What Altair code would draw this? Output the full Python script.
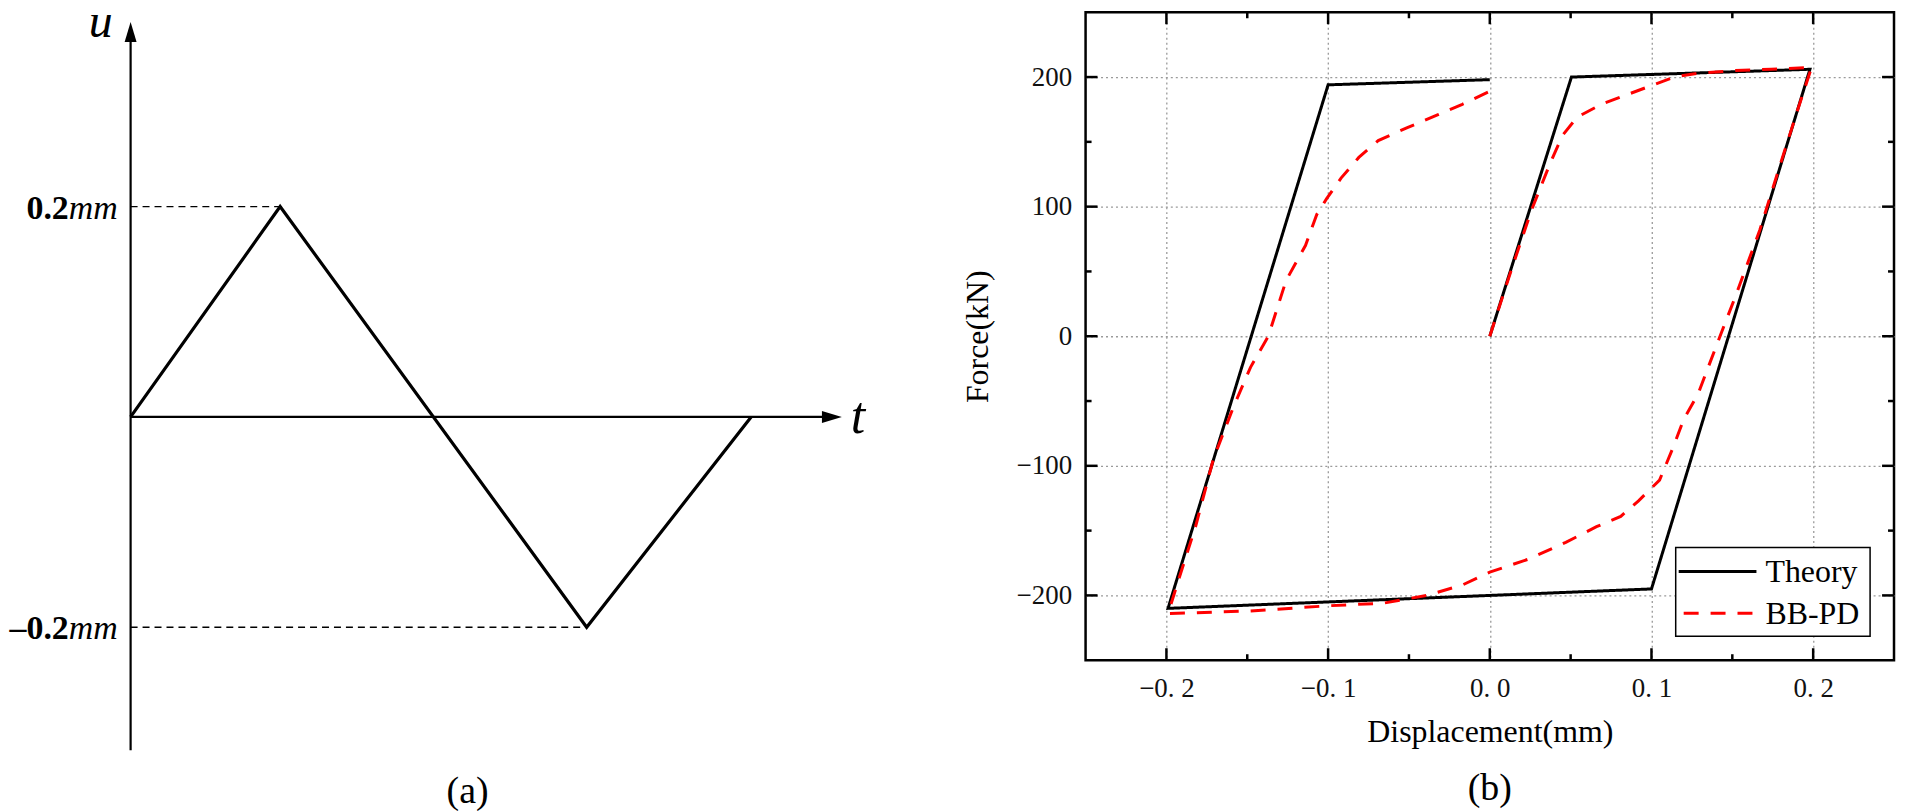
import altair as alt
import pandas as pd

# ---------------- Panel (a): loading history ----------------
wave_t = [0.0, 1.0, 3.05, 4.15]
wave_u = [0.0, 0.2, -0.2, 0.0]
guide_u = [0.2, -0.2]
guide_t_end = [1.0, 3.05]
guide_num = ["0.2", "\u20130.2"]
guide_unit = ["mm", "mm"]
t_axis_end = 4.69
u_axis_top = 0.366
u_axis_bottom = -0.317

# ---------------- Panel (b): hysteresis loops ----------------
theory_x = [0.0, 0.0505, 0.198, 0.1, -0.199, -0.1, 0.0]
theory_y = [0.0, 200, 206, -195, -210, 194, 198]

bbpd_x = [0.0, 0.013, 0.026, 0.0375, 0.045, 0.054, 0.069, 0.084, 0.099, 0.114, 0.129, 0.152, 0.174, 0.199,
          0.19, 0.178, 0.167, 0.152, 0.141, 0.129, 0.12, 0.113, 0.105, 0.092, 0.081, 0.066, 0.047, 0.024,
          0.0, -0.017, -0.039, -0.066, -0.1, -0.148, -0.199,
          -0.193, -0.182, -0.171, -0.159, -0.148, -0.137, -0.126, -0.114, -0.107, -0.101, -0.092, -0.081,
          -0.069, -0.051, -0.032, -0.017, 0.0]
bbpd_y = [0, 50, 98, 134, 155, 169, 179, 186, 193, 200, 203, 205, 206, 207.5,
          173, 126, 82, 31, -4.5, -44, -64, -87, -111, -127, -139, -147, -159, -172,
          -182, -192, -200, -206, -208, -212, -214,
          -190, -147, -95, -56, -24, 0, 43, 70, 94, 106, 122, 138,
          151, 161, 171, 179, 189]

series_names = ["Theory", "BB-PD"]
series_colors = ["black", "#ff0000"]
series_dashes = [[1, 0], [15, 12]]
x_ticks = [-0.2, -0.1, 0.0, 0.1, 0.2]
x_minor = [-0.15, -0.05, 0.05, 0.15]
y_ticks = [-200, -100, 0, 100, 200]
y_minor = [-150, -50, 50, 150]

SERIF = "Liberation Serif"

# ======================= Panel (a) =======================
xa = alt.Scale(domain=[-0.82, 5.18], nice=False, zero=False)
ya = alt.Scale(domain=[-0.3356, 0.3848], nice=False, zero=False)
Wa, Ha = 900, 760


def XA(f):
    return alt.X(f, type="quantitative", scale=xa, axis=None)


def YA(f):
    return alt.Y(f, type="quantitative", scale=ya, axis=None)


axes_df = pd.DataFrame({"t0": [0.0, 0.0], "t1": [t_axis_end, 0.0],
                        "u0": [0.0, u_axis_bottom], "u1": [0.0, u_axis_top]})
axes_layer = alt.Chart(axes_df).mark_rule(color="black", strokeWidth=2.2).encode(
    x=XA("t0"), x2="t1", y=YA("u0"), y2="u1")

arrow_df = pd.DataFrame({"t": [t_axis_end, 0.0], "u": [0.0, u_axis_top],
                         "shape": ["M-1,-0.6L1,0L-1,0.6Z", "M-0.6,1L0,-1L0.6,1Z"]})
arrow_layer = alt.Chart(arrow_df).mark_point(filled=True, color="black", opacity=1, size=400).encode(
    x=XA("t"), y=YA("u"), shape=alt.Shape("shape:N", scale=None, legend=None))

wave_df = pd.DataFrame({"t": wave_t, "u": wave_u, "i": list(range(len(wave_t)))})
wave_layer = alt.Chart(wave_df).mark_line(color="black", strokeWidth=3.2).encode(
    x=XA("t"), y=YA("u"), order="i:Q")

guide_df = pd.DataFrame({"t0": [0.0, 0.0], "t1": guide_t_end, "u": guide_u,
                         "num": guide_num, "unit": guide_unit})
guide_layer = alt.Chart(guide_df).mark_rule(color="black", strokeWidth=1.3, strokeDash=[7, 5]).encode(
    x=XA("t0"), x2="t1", y=YA("u"))

unit_text = alt.Chart(guide_df).mark_text(
    align="right", baseline="middle", font=SERIF, fontStyle="italic", fontSize=34,
    dx=-13, dy=2, color="black", clip=True).encode(x=XA("t0"), y=YA("u"), text="unit:N")
num_text = alt.Chart(guide_df).mark_text(
    align="right", baseline="middle", font=SERIF, fontWeight="bold", fontSize=34,
    dx=-62, dy=2, color="black", clip=True).encode(x=XA("t0"), y=YA("u"), text="num:N")

u_label = alt.Chart(pd.DataFrame({"t": [0.0], "u": [u_axis_top], "s": ["u"]})).mark_text(
    align="center", baseline="alphabetic", font=SERIF, fontStyle="italic", fontSize=48,
    dx=-30, dy=5, color="black", clip=True).encode(x=XA("t"), y=YA("u"), text="s:N")
t_label = alt.Chart(pd.DataFrame({"t": [t_axis_end], "u": [0.0], "s": ["t"]})).mark_text(
    align="left", baseline="middle", font=SERIF, fontStyle="italic", fontSize=52,
    dx=19, dy=0, color="black", clip=True).encode(x=XA("t"), y=YA("u"), text="s:N")

panel_a = alt.layer(guide_layer, axes_layer, arrow_layer, wave_layer, unit_text, num_text,
                    u_label, t_label).properties(
    width=Wa, height=Ha,
    view=alt.ViewBackground(strokeWidth=0),
    title=alt.Title("(a)", orient="bottom", fontSize=38, font=SERIF, fontWeight="normal",
                    color="black", offset=3, dx=11),
)

# ======================= Panel (b) =======================
xs = alt.Scale(domain=[-0.25, 0.25], nice=False, zero=False)
ys = alt.Scale(domain=[-250, 250], nice=False, zero=False)
Wb, Hb = 811, 650

x_axis = alt.Axis(
    values=x_ticks, title="Displacement(mm)",
    labelExpr="replace(format(datum.value, '.1f'), '.', '. ')",
    ticks=False, domain=False, grid=True, gridDash=[2, 3], gridColor="#9a9a9a", gridWidth=1.3,
    labelFont=SERIF, labelFontSize=27, labelColor="#111", labelPadding=15,
    titleFont=SERIF, titleFontSize=32, titleFontWeight="normal", titleColor="black",
    titlePadding=16)
y_axis = alt.Axis(
    values=y_ticks, title="Force(kN)", format="d",
    ticks=False, domain=False, grid=True, gridDash=[2, 3], gridColor="#9a9a9a", gridWidth=1.3,
    labelFont=SERIF, labelFontSize=27, labelColor="#111", labelPadding=14,
    titleFont=SERIF, titleFontSize=32, titleFontWeight="normal", titleColor="black",
    titlePadding=22)

rows = []
for i, (x, y) in enumerate(zip(theory_x, theory_y)):
    rows.append({"series": "Theory", "x": x, "y": y, "i": i})
for i, (x, y) in enumerate(zip(bbpd_x, bbpd_y)):
    rows.append({"series": "BB-PD", "x": x, "y": y, "i": i})
lines_df = pd.DataFrame(rows)

lines = alt.Chart(lines_df).mark_line(strokeWidth=3).encode(
    x=alt.X("x:Q", scale=xs, axis=x_axis),
    y=alt.Y("y:Q", scale=ys, axis=y_axis),
    color=alt.Color("series:N", scale=alt.Scale(domain=series_names, range=series_colors), legend=None),
    strokeDash=alt.StrokeDash("series:N", scale=alt.Scale(domain=series_names, range=series_dashes),
                              legend=None),
    order="i:Q",
)


def tick_layer(vals, side, length):
    if side in ("bottom", "top"):
        df = pd.DataFrame({"x": vals})
    else:
        df = pd.DataFrame({"y": vals})
    base = alt.Chart(df).mark_rule(color="black", strokeWidth=2.5)
    if side == "bottom":
        return base.encode(x=alt.X("x:Q", scale=xs, axis=x_axis), y=alt.value(Hb), y2=alt.value(Hb - length))
    if side == "top":
        return base.encode(x=alt.X("x:Q", scale=xs, axis=x_axis), y=alt.value(0), y2=alt.value(length))
    if side == "left":
        return base.encode(y=alt.Y("y:Q", scale=ys, axis=y_axis), x=alt.value(0), x2=alt.value(length))
    return base.encode(y=alt.Y("y:Q", scale=ys, axis=y_axis), x=alt.value(Wb), x2=alt.value(Wb - length))


tick_layers = []
for side in ["bottom", "top"]:
    tick_layers.append(tick_layer(x_ticks, side, 12))
    tick_layers.append(tick_layer(x_minor, side, 6))
for side in ["left", "right"]:
    tick_layers.append(tick_layer(y_ticks, side, 12))
    tick_layers.append(tick_layer(y_minor, side, 6))

# ---- legend box (bottom-right, inside the frame) ----
LB_X1 = Wb - 24
LB_X0 = LB_X1 - 195
LB_Y1 = Hb - 24
LB_Y0 = LB_Y1 - 89
legend_layers = [
    alt.Chart(pd.DataFrame({"k": [0]})).mark_rect(fill="white", stroke="black", strokeWidth=1.5).encode(
        x=alt.value(LB_X0), x2=alt.value(LB_X1), y=alt.value(LB_Y0), y2=alt.value(LB_Y1))
]
row_offsets = [24, 66]
sym_starts = [3, 8]
for name, col, dash, off, s0 in zip(series_names, series_colors, series_dashes, row_offsets, sym_starts):
    yy = LB_Y0 + off
    d = pd.DataFrame({"s": [name]})
    legend_layers.append(
        alt.Chart(d).mark_rule(color=col, strokeWidth=3, strokeDash=dash).encode(
            x=alt.value(LB_X0 + s0), x2=alt.value(LB_X0 + 81), y=alt.value(yy)))
    legend_layers.append(
        alt.Chart(d).mark_text(align="left", baseline="middle", font=SERIF, fontSize=32,
                               color="black", dy=1).encode(
            x=alt.value(LB_X0 + 90), y=alt.value(yy), text="s:N"))

panel_b = alt.layer(lines, *tick_layers, *legend_layers).properties(
    width=Wb, height=Hb,
    view=alt.ViewBackground(stroke="black", strokeWidth=2.5),
    title=alt.Title("(b)", orient="bottom", fontSize=38, font=SERIF, fontWeight="normal",
                    color="black", offset=22),
)

chart = alt.hconcat(panel_a, panel_b, spacing=181, bounds="flush").properties(
    padding=0, background="white")

chart.save("out.html", embed_options={"renderer": "svg", "actions": False})
